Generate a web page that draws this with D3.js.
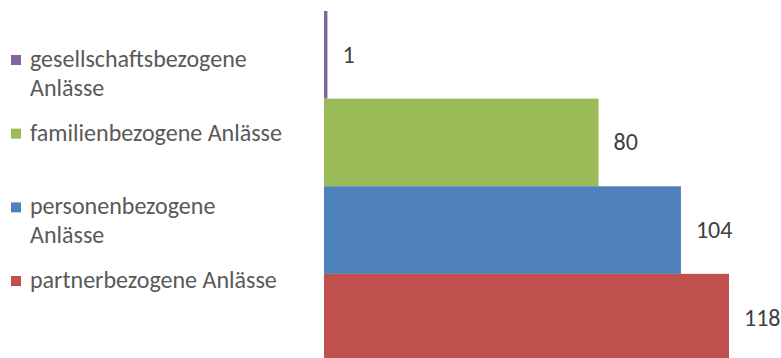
<!DOCTYPE html>
<html>
<head>
<meta charset="utf-8">
<script src="https://cdn.jsdelivr.net/npm/d3@7"></script>
<style>
  html, body { margin: 0; padding: 0; background: #ffffff; }
  svg { display: block; }
</style>
</head>
<body>
<svg id="chart" width="781" height="358"></svg>
<script>
// Categories, top to bottom, with their counts and colours
const categories = [
  "gesellschaftsbezogene Anlässe",
  "familienbezogene Anlässe",
  "personenbezogene Anlässe",
  "partnerbezogene Anlässe"
];
const values = [1, 80, 104, 118];
const colors = ["#8064A2", "#9BBB59", "#4F81BD", "#C0504D"];
// Legend entries as they wrap onto lines
const legendLines = [
  ["gesellschaftsbezogene", "Anlässe"],
  ["familienbezogene Anlässe"],
  ["personenbezogene", "Anlässe"],
  ["partnerbezogene Anlässe"]
];

const svg = d3.select("#chart");
const fontStack = "Carlito, Calibri, Lato, 'Open Sans', sans-serif";

// Fit the font size so the longest legend line has the width of an 18pt Calibri line
const probe = svg.append("text")
  .style("font-family", fontStack)
  .style("font-size", "24px")
  .text("familienbezogene Anlässe");
const probeWidth = probe.node().getComputedTextLength();
probe.remove();
const fontSize = 24 * 252 / probeWidth;

const x = d3.scaleLinear().domain([0, 118]).range([324, 729]);
const y = d3.scaleBand().domain(categories).range([11, 361.5]).paddingInner(0).paddingOuter(0);

// Bars
svg.append("g")
  .selectAll("rect")
  .data(categories)
  .join("rect")
  .attr("x", x(0))
  .attr("y", d => y(d))
  .attr("width", (d, i) => x(values[i]) - x(0))
  .attr("height", y.bandwidth())
  .attr("fill", (d, i) => colors[i]);

// Value labels outside the bar ends
svg.append("g")
  .selectAll("text")
  .data(categories)
  .join("text")
  .attr("x", (d, i) => x(values[i]) + 15)
  .attr("y", d => y(d) + y.bandwidth() / 2 + 8)
  .style("font-family", fontStack)
  .style("font-size", fontSize + "px")
  .attr("fill", "#404040")
  .text((d, i) => values[i]);

// Legend on the left
const ly = d3.scalePoint().domain(categories).range([60, 281]);
const lineHeight = 29;
const legend = svg.append("g")
  .selectAll("g")
  .data(categories)
  .join("g")
  .attr("transform", d => `translate(0,${ly(d)})`);

legend.append("rect")
  .attr("x", 11)
  .attr("y", -5)
  .attr("width", 10)
  .attr("height", 10)
  .attr("fill", (d, i) => colors[i]);

legend.append("text")
  .style("font-family", fontStack)
  .style("font-size", fontSize + "px")
  .attr("fill", "#595959")
  .selectAll("tspan")
  .data((d, i) => legendLines[i])
  .join("tspan")
  .attr("x", 30)
  .attr("y", (t, j) => 7 + j * lineHeight)
  .text(t => t);
</script>
</body>
</html>
